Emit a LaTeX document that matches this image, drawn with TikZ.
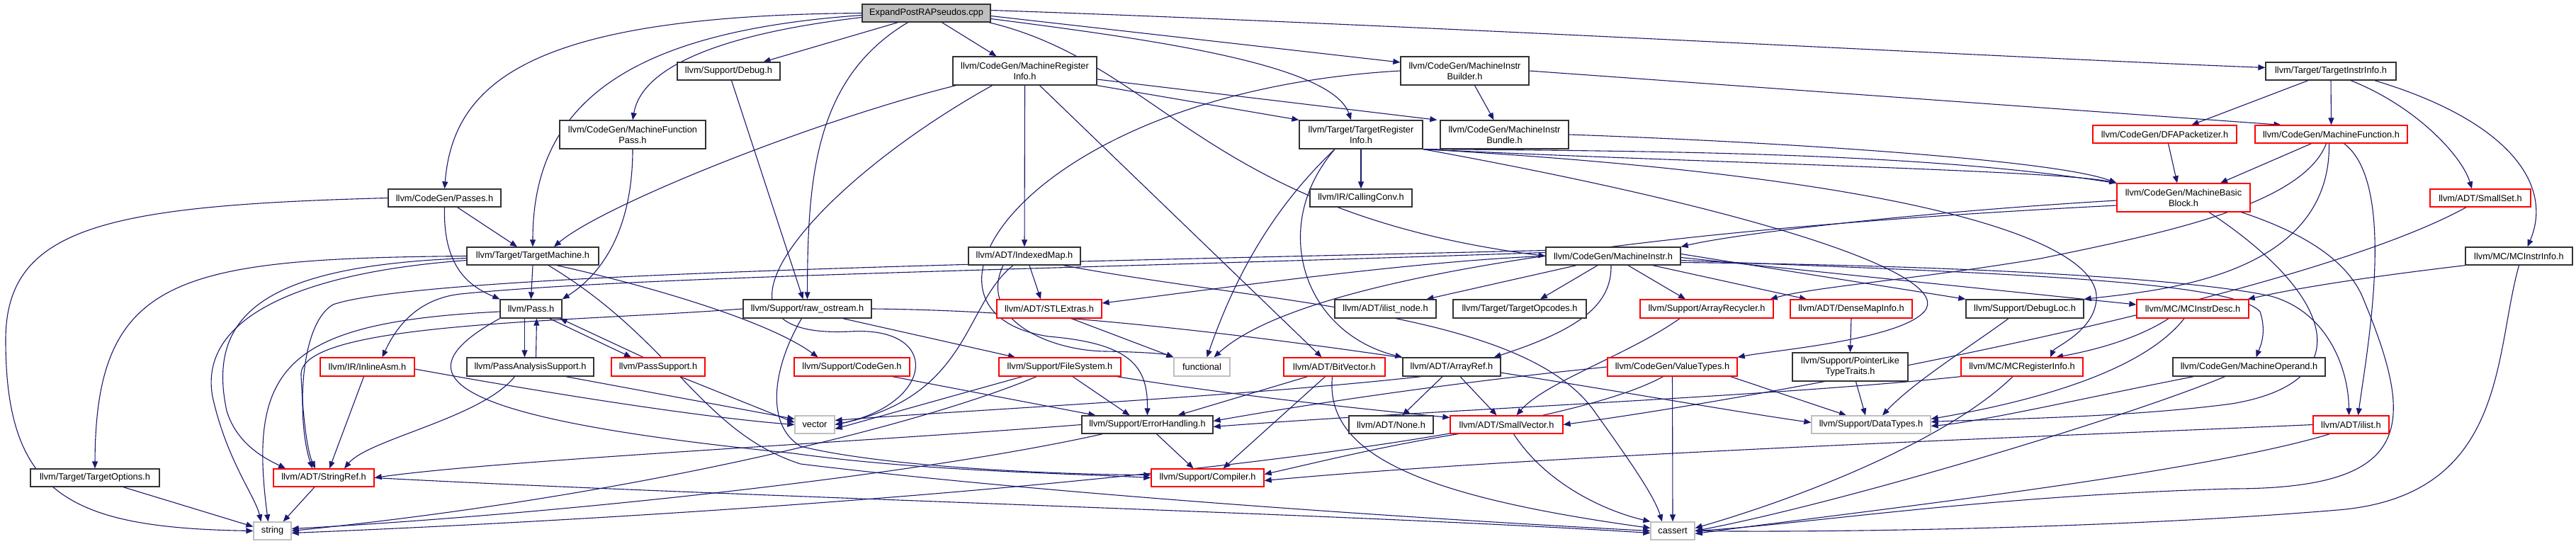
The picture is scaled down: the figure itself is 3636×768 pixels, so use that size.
\documentclass[tikz,border=0pt]{standalone}
\usepackage{fontspec}
\setmainfont{Liberation Sans}
\usetikzlibrary{arrows.meta,calc}
\definecolor{edgec}{HTML}{191970}
\pgfdeclarelayer{bg}
\pgfsetlayers{bg,main}
\newcommand\bx[7]{%
  \pgfmathsetmacro\bxcx{(#2+#4)/2}%
  \pgfmathsetmacro\bxcy{(#3+#5)/2}%
  \pgfmathsetmacro\bxw{#4-#2}%
  \pgfmathsetmacro\bxh{#5-#3}%
  \node[#6,minimum width=\bxw pt,minimum height=\bxh pt] (#1) at (\bxcx,\bxcy) {#7};}
\begin{document}
\begin{tikzpicture}[x=1pt,y=-1pt,
  every node/.style={font=\fontsize{12.8}{15}\selectfont},
  nb/.style={draw=black!80,line width=1.3pt,fill=white,inner sep=0pt,align=center},
  nr/.style={nb,draw=red},
  ns/.style={nb,draw=black!25},
  nroot/.style={nb,fill=black!25},
  edg/.style={draw=edgec,line width=1.1pt,-{Triangle[length=10pt,width=8pt]}}]
\useasboundingbox (0,0) rectangle (3636,768);
% nodes
\bx{cpp}{1217}{6}{1398}{31}{nroot}{ExpandPostRAPseudos.cpp}
\bx{debug}{956}{88}{1101}{113}{nb}{llvm/Support/Debug.h}
\bx{mri}{1345}{80}{1548}{120}{nb}{llvm/CodeGen/MachineRegister\\Info.h}
\bx{mib}{1977}{80}{2158}{120}{nb}{llvm/CodeGen/MachineInstr\\Builder.h}
\bx{tii}{3198}{88}{3382}{113}{nb}{llvm/Target/TargetInstrInfo.h}
\bx{mfp}{790}{170}{996}{210}{nb}{llvm/CodeGen/MachineFunction\\Pass.h}
\bx{tri}{1834}{170}{2008}{210}{nb}{llvm/Target/TargetRegister\\Info.h}
\bx{mibun}{2033}{170}{2214}{210}{nb}{llvm/CodeGen/MachineInstr\\Bundle.h}
\bx{dfa}{2954}{177}{3157}{202}{nr}{llvm/CodeGen/DFAPacketizer.h}
\bx{mf}{3183}{177}{3398}{202}{nr}{llvm/CodeGen/MachineFunction.h}
\bx{passes}{548}{267}{707}{292}{nb}{llvm/CodeGen/Passes.h}
\bx{mbb}{2988}{259}{3176}{299}{nr}{llvm/CodeGen/MachineBasic\\Block.h}
\bx{cc}{1849}{267}{1993}{292}{nb}{llvm/IR/CallingConv.h}
\bx{smallset}{3430}{267}{3572}{292}{nr}{llvm/ADT/SmallSet.h}
\bx{tm}{659}{349}{845}{374}{nb}{llvm/Target/TargetMachine.h}
\bx{imap}{1367}{349}{1525}{374}{nb}{llvm/ADT/IndexedMap.h}
\bx{mi}{2182}{349}{2372}{374}{nb}{llvm/CodeGen/MachineInstr.h}
\bx{mcii}{3480}{349}{3631}{374}{nb}{llvm/MC/MCInstrInfo.h}
\bx{pass}{706}{423}{793}{449}{nb}{llvm/Pass.h}
\bx{rawos}{1049}{423}{1230}{449}{nb}{llvm/Support/raw\_ostream.h}
\bx{stl}{1407}{423}{1555}{449}{nr}{llvm/ADT/STLExtras.h}
\bx{ilnode}{1884}{423}{2027}{449}{nb}{llvm/ADT/ilist\_node.h}
\bx{topc}{2051}{423}{2239}{449}{nb}{llvm/Target/TargetOpcodes.h}
\bx{arec}{2315}{423}{2503}{449}{nr}{llvm/Support/ArrayRecycler.h}
\bx{dmi}{2527}{423}{2699}{449}{nr}{llvm/ADT/DenseMapInfo.h}
\bx{dloc}{2775}{423}{2941}{449}{nb}{llvm/Support/DebugLoc.h}
\bx{mcid}{3016}{423}{3174}{449}{nr}{llvm/MC/MCInstrDesc.h}
\bx{iasm}{452}{505}{585}{531}{nr}{llvm/IR/InlineAsm.h}
\bx{pas}{659}{505}{838}{531}{nb}{llvm/PassAnalysisSupport.h}
\bx{psup}{863}{505}{995}{531}{nr}{llvm/PassSupport.h}
\bx{cg}{1121}{505}{1284}{531}{nr}{llvm/Support/CodeGen.h}
\bx{fs}{1410}{505}{1582}{531}{nr}{llvm/Support/FileSystem.h}
\bx{func}{1657}{505}{1736}{531}{ns}{functional}
\bx{bv}{1812}{505}{1955}{531}{nr}{llvm/ADT/BitVector.h}
\bx{aref}{1980}{505}{2118}{531}{nb}{llvm/ADT/ArrayRef.h}
\bx{vt}{2269}{505}{2452}{531}{nr}{llvm/CodeGen/ValueTypes.h}
\bx{pltt}{2530}{498}{2693}{538}{nb}{llvm/Support/PointerLike\\TypeTraits.h}
\bx{mcri}{2768}{505}{2940}{531}{nr}{llvm/MC/MCRegisterInfo.h}
\bx{mop}{3067}{505}{3282}{531}{nb}{llvm/CodeGen/MachineOperand.h}
\bx{vector}{1122}{587}{1178}{612}{ns}{vector}
\bx{eh}{1527}{587}{1712}{612}{nb}{llvm/Support/ErrorHandling.h}
\bx{none}{1904}{587}{2023}{612}{nb}{llvm/ADT/None.h}
\bx{svec}{2047}{587}{2206}{612}{nr}{llvm/ADT/SmallVector.h}
\bx{dt}{2557}{587}{2725}{612}{ns}{llvm/Support/DataTypes.h}
\bx{ilist}{3265}{587}{3372}{612}{nr}{llvm/ADT/ilist.h}
\bx{topt}{43}{662}{225}{687}{nb}{llvm/Target/TargetOptions.h}
\bx{sref}{386}{662}{528}{687}{nr}{llvm/ADT/StringRef.h}
\bx{comp}{1625}{662}{1784}{687}{nr}{llvm/Support/Compiler.h}
\bx{string}{358}{737}{411}{762}{ns}{string}
\bx{cassert}{2330}{737}{2392}{762}{ns}{cassert}
\begin{pgfonlayer}{bg}
\fill[white] (0,0) rectangle (3636,768);
% root
\draw[edg] (cpp.west) .. controls (760,22) and (640,110) .. (passes.north);
\draw[edg] ($(cpp.west)+(0,3)$) .. controls (880,45) and (752,150) .. (tm.north);
\draw[edg] ($(cpp.west)+(0,6)$) .. controls (1000,50) and (905,100) .. (mfp.north);
\draw[edg] ($(cpp.south)+(-40,0)$) -- ($(debug.north)+(49,0)$);
\draw[edg] ($(cpp.south)+(-26,0)$) .. controls (1150,110) and (1140,250) .. (rawos.north);
\draw[edg] ($(cpp.south)+(22,0)$) -- ($(mri.north)+(-40,0)$);
\draw[edg] ($(cpp.east)+(0,8)$) .. controls (1620,55) and (1880,90) .. ($(tri.north)+(-14,0)$);
\draw[edg] ($(cpp.south east)+(-3,0)$) .. controls (1640,90) and (1700,300) .. (mi.west);
\draw[edg] ($(cpp.east)+(0,4)$) -- ($(mib.west)+(0,-12)$);
\draw[edg] ($(cpp.east)+(0,-4)$) .. controls (2000,35) and (2800,80) .. ($(tii.west)+(0,-5)$);
% passes, mfp, debug
\draw[edg] (passes.south) .. controls (625,380) and (665,405) .. (pass.north west);
\draw[edg] ($(passes.south)+(18,0)$) -- ($(tm.north)+(-22,0)$);
\draw[edg] (passes.west) .. controls (150,290) and (8,320) .. (8,480) .. controls (8,700) and (100,745) .. (string.west);
\draw[edg] (mfp.south) .. controls (893,330) and (845,390) .. (pass.north east);
\draw[edg] ($(debug.south)+(4,0)$) -- ($(rawos.north)+(-6,0)$);
% mri
\draw[edg] ($(mri.south west)+(5,0)$) .. controls (1150,170) and (850,290) .. ($(tm.north)+(30,0)$);
\draw[edg] ($(mri.south)+(-46,0)$) .. controls (1150,260) and (960,480) .. (1200,468) .. controls (1330,460) and (1320,570) .. (vector.east);
\draw[edg] (mri.south) -- (imap.north);
\draw[edg] ($(mri.south)+(21,0)$) -- ($(bv.north)+(-18,0)$);
\draw[edg] ($(mri.east)+(0,12)$) -- ($(mibun.north west)+(-4,0)$);
\draw[edg] (mri.south east) -- (tri.north west);
% mib
\draw[edg] ($(mib.south)+(14,0)$) -- ($(mibun.north)+(-15,0)$);
\draw[edg] (mib.east) -- ($(mf.north)+(-71,0)$);
\draw[edg] (mib.west) .. controls (1450,130) and (1250,440) .. (1480,475) .. controls (1600,485) and (1620,520) .. (eh.north);
% tii
\draw[edg] ($(tii.south)+(-32,0)$) -- ($(dfa.north)+(38,0)$);
\draw[edg] (tii.south) -- (mf.north);
\draw[edg] ($(tii.south)+(28,0)$) .. controls (3410,150) and (3475,220) .. ($(smallset.north)+(-12,0)$);
\draw[edg] ($(tii.south east)+(-31,0)$) .. controls (3540,170) and (3605,260) .. ($(mcii.north)+(12,0)$);
% tri
\draw[edg] (tri.south) -- (cc.north);
\draw[edg] ($(tri.south)+(-37,0)$) .. controls (1790,320) and (1840,470) .. (aref.north west);
\draw[edg] ($(tri.south)+(-37,0)$) .. controls (1790,300) and (1740,400) .. ($(func.north)+(7,0)$);
\draw[edg] (tri.south east) .. controls (2400,230) and (2900,240) .. (mbb.north west);
\draw[edg] (tri.south east) .. controls (2500,300) and (2760,390) .. (2716,440) .. controls (2680,480) and (2500,495) .. (vt.north east);
\draw[edg] (tri.south east) .. controls (2700,250) and (2980,340) .. (2958,430) .. controls (2950,470) and (2900,490) .. ($(mcri.north)+(40,0)$);
\draw[edg] (tri.south east) .. controls (2600,215) and (3250,220) .. (3335,420) .. controls (3410,600) and (3410,690) .. (3150,690) .. controls (2800,700) and (2550,740) .. (cassert.east);
% mibun, dfa, mf
\draw[edg] (mibun.east) .. controls (2500,200) and (2900,225) .. (mbb.north west);
\draw[edg] ($(dfa.south)+(5,0)$) -- ($(mbb.north)+(-9,0)$);
\draw[edg] ($(mf.south)+(-28,0)$) -- ($(mbb.north)+(52,0)$);
\draw[edg] ($(mf.south)+(18,0)$) .. controls (3385,260) and (3340,500) .. ($(ilist.north)+(10,0)$);
\draw[edg] ($(mf.south)+(-7,0)$) .. controls (3250,290) and (3050,330) .. (2880,365) .. controls (2700,395) and (2560,405) .. ($(arec.north east)+(-5,0)$);
\draw[edg] ($(mf.south)+(-3,0)$) .. controls (3290,390) and (3050,410) .. (dloc.north east);
% mbb
\draw[edg] ($(mbb.west)+(0,4)$) .. controls (2700,300) and (2450,330) .. (mi.north east);
\draw[edg] ($(mbb.west)+(0,11)$) .. controls (2400,320) and (1850,380) .. ($(func.north)+(17,0)$);
\draw[edg] ($(mbb.south)+(36,0)$) .. controls (3300,420) and (3330,540) .. (3150,570) .. controls (3000,590) and (2800,592) .. ($(dt.east)+(0,-4)$);
% smallset, mcii
\draw[edg] ($(smallset.south)+(-20,0)$) .. controls (3250,420) and (2500,560) .. (svec.east);
\draw[edg] (mcii.south west) .. controls (3350,390) and (3250,405) .. ($(mcid.north east)+(-2,0)$);
\draw[edg] (mcii.south) .. controls (3520,500) and (3540,700) .. (3300,720) .. controls (3000,745) and (2600,752) .. (cassert.east);
% tm
\draw[edg] (tm.south) -- (pass.north);
\draw[edg] ($(tm.south)+(34,0)$) .. controls (900,400) and (1080,450) .. ($(cg.north)+(-48,0)$);
\draw[edg] ($(tm.south)+(22,0)$) .. controls (950,480) and (990,610) .. (1130,655) .. controls (1500,700) and (2050,735) .. (cassert.west);
\draw[edg] (tm.west) .. controls (250,365) and (135,390) .. (topt.north);
\draw[edg] ($(tm.west)+(0,3)$) .. controls (380,375) and (290,440) .. (320,580) .. controls (335,630) and (380,650) .. ($(sref.north)+(-54,0)$);
\draw[edg] ($(tm.west)+(0,6)$) .. controls (420,385) and (280,450) .. (300,560) .. controls (320,650) and (360,700) .. ($(string.north)+(-16,0)$);
% imap, stl
\draw[edg] ($(imap.south)+(7,0)$) -- ($(stl.north)+(-12,0)$);
\draw[edg] ($(imap.south)+(-30,0)$) .. controls (1380,450) and (1480,495) .. (1560,496) .. controls (1620,497) and (1645,500) .. (func.north west);
\draw[edg] ($(imap.south)+(-16,0)$) .. controls (1360,430) and (1370,560) .. (vector.east);
\draw[edg] ($(imap.south east)+(-25,0)$) .. controls (1800,430) and (2150,440) .. (2250,580) .. controls (2300,650) and (2335,700) .. ($(cassert.north)+(-15,0)$);
\draw[edg] ($(stl.south)+(31,0)$) -- (func.north west);
% mi
\draw[edg] (mi.west) .. controls (2000,368) and (1700,410) .. ($(stl.east)+(0,-8)$);
\draw[edg] ($(mi.west)+(0,-5)$) .. controls (1500,380) and (900,390) .. (650,415) .. controls (590,422) and (560,460) .. ($(iasm.north)+(21,0)$);
\draw[edg] ($(mi.west)+(0,-8)$) .. controls (1500,370) and (600,385) .. (470,430) .. controls (420,460) and (420,600) .. ($(sref.north)+(-16,0)$);
\draw[edg] ($(mi.south)+(-52,0)$) -- ($(ilnode.north)+(58,0)$);
\draw[edg] ($(mi.south)+(-22,0)$) -- ($(topc.north)+(29,0)$);
\draw[edg] ($(mi.south)+(-3,0)$) .. controls (2275,430) and (2230,465) .. ($(aref.north east)+(-10,0)$);
\draw[edg] ($(mi.south)+(21,0)$) -- ($(arec.north)+(-30,0)$);
\draw[edg] ($(mi.south east)+(-40,0)$) -- ($(dmi.north)+(-63,0)$);
\draw[edg] ($(mi.east)+(0,-3)$) -- (dloc.north west);
\draw[edg] ($(mi.east)+(0,2)$) -- ($(mcid.west)+(0,-6)$);
\draw[edg] ($(mi.east)+(0,6)$) .. controls (2800,385) and (3150,395) .. (3190,440) .. controls (3200,470) and (3190,490) .. ($(mop.north)+(10,0)$);
\draw[edg] ($(mi.east)+(0,9)$) .. controls (2800,375) and (3100,395) .. (3205,418) .. controls (3285,440) and (3315,520) .. ($(ilist.north)+(-3,0)$);
% pass group
\draw[edg] ($(pass.south)+(-9,0)$) -- ($(pas.north)+(-8,0)$);
\draw[edg] ($(pas.north)+(8,0)$) -- ($(pass.south)+(8,0)$);
\draw[edg] ($(pass.south east)+(-18,0)$) -- ($(psup.north)+(-38,0)$);
\draw[edg] ($(psup.north)+(-21,0)$) -- ($(pass.south east)+(-3,0)$);
\draw[edg] ($(pass.west)+(0,4)$) .. controls (400,455) and (350,520) .. ($(string.north)+(-6,0)$);
\draw[edg] (pass.south west) .. controls (560,530) and (620,590) .. (1120,640) .. controls (1300,665) and (1500,668) .. (comp.west);
\draw[edg] ($(pas.south)+(-22,0)$) .. controls (680,590) and (520,620) .. ($(sref.north)+(29,0)$);
\draw[edg] ($(pas.south east)+(-40,0)$) -- ($(vector.west)+(0,-8)$);
\draw[edg] ($(psup.south)+(31,0)$) -- ($(vector.west)+(0,-3)$);
\draw[edg] ($(iasm.south)+(-5,0)$) -- ($(sref.north)+(8,0)$);
\draw[edg] ($(iasm.east)+(0,3)$) .. controls (800,560) and (1000,590) .. (vector.west);
% raw_ostream
\draw[edg] (rawos.west) .. controls (800,455) and (420,455) .. (425,530) .. controls (428,600) and (435,640) .. ($(sref.north)+(-12,0)$);
\draw[edg] ($(rawos.south)+(-8,0)$) .. controls (1090,520) and (1080,600) .. (1130,630) .. controls (1250,660) and (1500,670) .. ($(comp.west)+(0,-4)$);
\draw[edg] ($(rawos.south east)+(-41,0)$) -- ($(fs.north)+(-63,0)$);
\draw[edg] (rawos.east) .. controls (1700,440) and (2300,560) .. ($(dt.west)+(0,-3)$);
% codegen, filesystem
\draw[edg] ($(cg.south east)+(-25,0)$) -- ($(eh.north west)+(20,0)$);
\draw[edg] ($(fs.south)+(-53,0)$) -- ($(vector.east)+(0,6)$);
\draw[edg] ($(fs.south)+(-33,0)$) .. controls (1300,600) and (900,700) .. (string.east);
\draw[edg] ($(fs.south)+(18,0)$) -- ($(eh.north)+(-25,0)$);
\draw[edg] ($(fs.south east)+(-6,0)$) .. controls (1750,560) and (1950,580) .. ($(svec.west)+(0,-10)$);
% error handling
\draw[edg] ($(eh.south)+(13,0)$) -- ($(comp.north)+(-20,0)$);
\draw[edg] (eh.west) .. controls (1200,625) and (700,650) .. (sref.east);
\draw[edg] ($(eh.south west)+(30,0)$) .. controls (1300,670) and (800,725) .. ($(string.east)+(0,-3)$);
% bitvector, arrayref
\draw[edg] ($(bv.south)+(-38,0)$) -- ($(eh.north east)+(-50,0)$);
\draw[edg] ($(bv.south)+(-13,0)$) -- ($(comp.north)+(22,0)$);
\draw[edg] ($(bv.south)+(-3,0)$) .. controls (1870,640) and (2000,700) .. ($(cassert.west)+(0,-4)$);
\draw[edg] ($(aref.south)+(-13,0)$) -- ($(none.north)+(16,0)$);
\draw[edg] ($(aref.south)+(12,0)$) -- ($(svec.north)+(-14,0)$);
\draw[edg] ($(aref.south)+(-43,0)$) .. controls (1750,560) and (1350,580) .. ($(vector.east)+(0,-6)$);
% smallvector
\draw[edg] ($(svec.south west)+(12,0)$) .. controls (1950,630) and (1850,655) .. ($(comp.east)+(0,-5)$);
\draw[edg] ($(svec.south)+(10,0)$) .. controls (2180,680) and (2260,720) .. (cassert.north west);
% valuetypes
\draw[edg] (vt.south) -- (cassert.north);
\draw[edg] ($(vt.south)+(-13,0)$) .. controls (2150,640) and (1200,720) .. ($(string.east)+(0,3)$);
\draw[edg] (vt.west) .. controls (2050,540) and (1850,570) .. ($(eh.east)+(0,-5)$);
\draw[edg] ($(vt.south east)+(-10,0)$) -- ($(dt.north)+(-35,0)$);
% others
\draw[edg] ($(pltt.south)+(8,0)$) -- ($(dt.north)+(-8,0)$);
\draw[edg] (dmi.south) -- (pltt.north);
\draw[edg] ($(arec.south)+(-38,0)$) .. controls (2300,500) and (2180,540) .. ($(svec.north)+(14,0)$);
\draw[edg] ($(dloc.south)+(-23,0)$) .. controls (2780,490) and (2700,540) .. ($(dt.north)+(16,0)$);
\draw[edg] ($(mcri.south)+(-13,0)$) .. controls (2750,620) and (2550,700) .. ($(cassert.east)+(0,-4)$);
\draw[edg] (mcri.south west) .. controls (2500,560) and (2000,580) .. ($(eh.east)+(0,3)$);
\draw[edg] ($(mcid.south)+(-34,0)$) .. controls (3030,470) and (2980,490) .. ($(mcri.north)+(48,0)$);
\draw[edg] ($(mcid.south)+(-12,0)$) .. controls (3020,530) and (2850,570) .. ($(dt.east)+(0,-8)$);
\draw[edg] ($(mop.south west)+(30,0)$) .. controls (2950,560) and (2800,595) .. ($(dt.east)+(0,2)$);
\draw[edg] ($(mop.south)+(-34,0)$) .. controls (3000,590) and (2600,710) .. (cassert.east);
\draw[edg] (ilist.west) .. controls (3000,612) and (2200,640) .. ($(comp.east)+(0,4)$);
\draw[edg] ($(ilist.south)+(-30,0)$) .. controls (3100,670) and (2600,725) .. ($(cassert.east)+(0,4)$);
\draw[edg] ($(sref.south)+(-13,0)$) -- ($(string.north east)+(-12,0)$);
\draw[edg] (sref.east) .. controls (1000,700) and (1900,725) .. ($(cassert.west)+(0,3)$);
\draw[edg] ($(topt.south)+(40,0)$) -- ($(string.west)+(0,-6)$);
\end{pgfonlayer}
\end{tikzpicture}
\end{document}
